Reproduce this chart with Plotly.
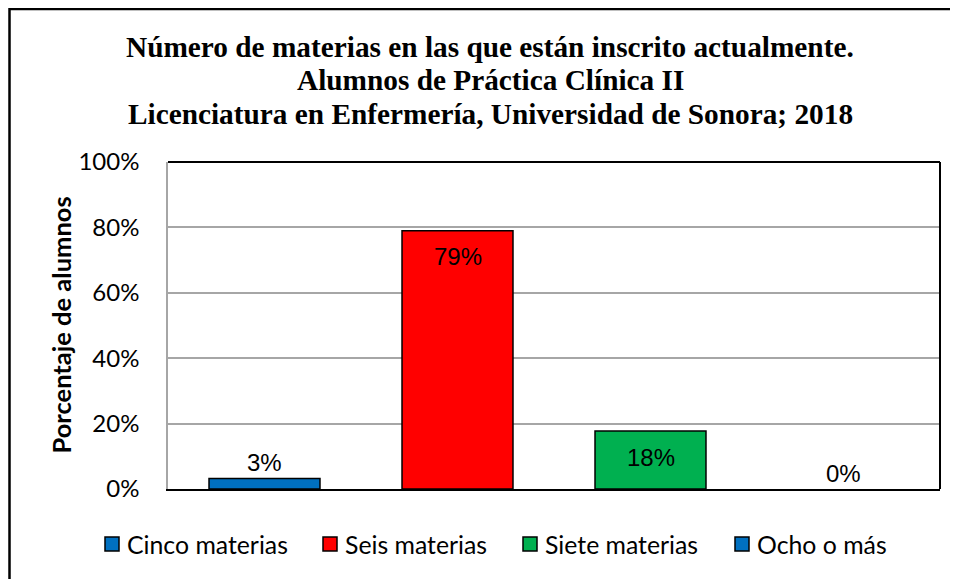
import plotly.graph_objects as go

categorias = ["Cinco materias", "Seis materias", "Siete materias", "Ocho o más"]
porcentajes = [3.2, 79.0, 17.7, 0.0]
etiquetas = ["3%", "79%", "18%", "0%"]
posiciones = ["outside", "inside", "inside", "outside"]
colores = ["#0070C0", "#FF0000", "#00B050", "#0070C0"]
y_ticks = [0, 20, 40, 60, 80, 100]
y_ticktext = ["0%", "20%", "40%", "60%", "80%", "100%"]

titulo = ["Número de materias en las que están inscrito actualmente.",
          "Alumnos de Práctica Clínica II",
          "Licenciatura en Enfermería, Universidad de Sonora; 2018"]

sans = "Lato, 'Open Sans', sans-serif"
arial = "'Liberation Sans', Arial, sans-serif"
serif = "'Liberation Serif', 'Times New Roman', serif"

W, H = 950, 571
L, R, T, B = 160, 18, 154, 90
pw, ph = W - L - R, H - T - B


def px_x(x):
    return (x - L) / pw


def px_y(y):
    return (H - B - y) / ph


fig = go.Figure()

for cat, val, col in zip(categorias, porcentajes, colores):
    fig.add_trace(go.Bar(
        x=[cat], y=[val], name=cat, showlegend=False,
        marker=dict(color=col, line=dict(color="black", width=1.5 if val > 0 else 0)),
    ))

# etiquetas de datos (dentro del extremo o encima de la barra)
for cat, val, lab, pos in zip(categorias, porcentajes, etiquetas, posiciones):
    fig.add_annotation(x=cat, y=val, text=lab, showarrow=False,
                       xanchor="center", yanchor="middle",
                       yshift=-26 if pos == "inside" else 16,
                       font=dict(family=arial, size=24, color="black"))

fig.update_layout(
    width=W, height=H,
    margin=dict(l=L, r=R, t=T, b=B),
    paper_bgcolor="white", plot_bgcolor="white",
    barmode="group", bargap=0.425,
    font=dict(family=sans, size=24, color="black"),
    showlegend=False,
    xaxis=dict(showticklabels=False, showline=True, linecolor="black", linewidth=2,
               ticks="", showgrid=False, fixedrange=True),
    yaxis=dict(range=[0, 100], tickvals=y_ticks, ticktext=y_ticktext,
               showgrid=True, gridcolor="#a6a6a6", gridwidth=1.5,
               showline=True, linecolor="#a6a6a6", linewidth=1.5,
               ticks="outside", ticklen=22, tickcolor="rgba(0,0,0,0)",
               zeroline=False, fixedrange=True),
)

# título en tres líneas
for i, linea in enumerate(titulo):
    fig.add_annotation(text="<b>" + linea + "</b>", xref="paper", yref="paper",
                       x=px_x(482), y=px_y(39 + i * 33.5), xanchor="center", yanchor="middle",
                       showarrow=False, font=dict(family=serif, size=29.3, color="black"))

# título del eje Y
fig.add_annotation(text="<b>Porcentaje de alumnos</b>", xref="paper", yref="paper",
                   x=px_x(52), y=0.5, xanchor="center", yanchor="middle", textangle=-90,
                   showarrow=False, font=dict(family=sans, size=25.5, color="black"))

# leyenda inferior: cuadro de color con borde negro y texto
leyenda_x = [97, 315, 515, 727]
for cat, col, lx in zip(categorias, colores, leyenda_x):
    fig.add_shape(type="rect", xref="paper", yref="paper",
                  x0=px_x(lx), x1=px_x(lx + 14), y0=px_y(543), y1=px_y(529),
                  fillcolor=col, line=dict(color="black", width=1.5))
    fig.add_annotation(text=cat, xref="paper", yref="paper",
                       x=px_x(lx + 20), y=px_y(536), xanchor="left", yanchor="middle",
                       showarrow=False, font=dict(family=sans, size=24.8, color="black"))

# borde del área de trazado (arriba y derecha) y marco exterior del gráfico
fig.add_shape(type="line", xref="paper", yref="paper", x0=0, x1=1, y0=1, y1=1,
              line=dict(color="black", width=2))
fig.add_shape(type="line", xref="paper", yref="paper", x0=1, x1=1, y0=0, y1=1,
              line=dict(color="black", width=2))
fig.add_shape(type="rect", xref="paper", yref="paper",
              x0=px_x(1.5), x1=px_x(W + 10), y0=px_y(H + 10), y1=px_y(1),
              line=dict(color="black", width=2.5))

fig.write_html("out.html")
